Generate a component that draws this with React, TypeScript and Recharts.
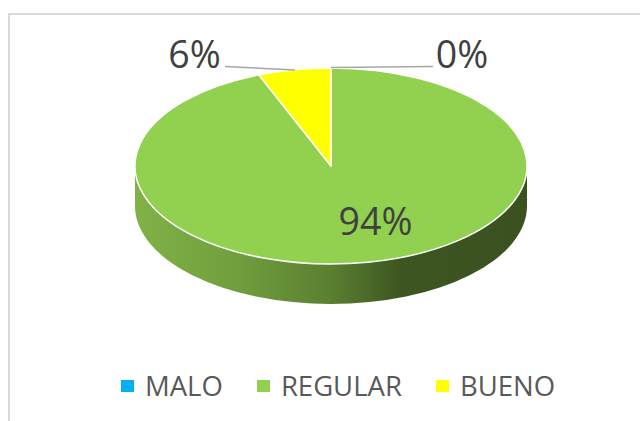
import React from "react";
import { PieChart, Pie, Legend } from "recharts";

const categories = ["MALO", "REGULAR", "BUENO"];
const shares = [0, 94, 6];
const fills = ["#00b0f0", "#92d050", "#ffff00"];

const tableData = categories.map((name, i) => ({ name, value: shares[i], fill: fills[i] }));

const CX = 331;
const CY = 166;
const RX = 196;
const SQUASH = 0.5;
const DEPTH = 40;
const FONT = '"Open Sans", "Noto Sans", sans-serif';

const pt = (a: number, rx: number, ry: number, cx: number, cy: number) => {
  const r = (a * Math.PI) / 180;
  return [cx + rx * Math.cos(r), cy - ry * Math.sin(r)];
};

function Sector3D(props: any) {
  const { cx, cy, outerRadius, startAngle, endAngle, fill } = props;
  const rx = outerRadius;
  const ry = outerRadius * SQUASH;
  const span = Math.abs(endAngle - startAngle);
  if (span <= 0) return <g />;
  const [sx, sy] = pt(startAngle, rx, ry, cx, cy);
  const [ex, ey] = pt(endAngle, rx, ry, cx, cy);
  const large = span > 180 ? 1 : 0;
  const top = `M${cx},${cy}L${sx},${sy}A${rx},${ry} 0 ${large} 1 ${ex},${ey}Z`;
  const a0 = Math.min(startAngle, 0);
  const a1 = Math.max(endAngle, -180);
  let wall = null;
  if (a0 > a1) {
    const [wx0, wy0] = pt(a0, rx, ry, cx, cy);
    const [wx1, wy1] = pt(a1, rx, ry, cx, cy);
    const d = `M${wx0},${wy0}L${wx0},${wy0 + DEPTH}A${rx},${ry} 0 0 1 ${wx1},${wy1 + DEPTH}L${wx1},${wy1}A${rx},${ry} 0 0 0 ${wx0},${wy0}Z`;
    wall = (
      <>
        <defs>
          <linearGradient id="wallShade" gradientUnits="userSpaceOnUse" x1={cx - rx} x2={cx + rx} y1="0" y2="0">
            <stop offset="0" stopColor="#80b247" />
            <stop offset="0.25" stopColor="#729f3e" />
            <stop offset="0.5" stopColor="#5a7f31" />
            <stop offset="0.68" stopColor="#3d5521" />
            <stop offset="1" stopColor="#3b5220" />
          </linearGradient>
        </defs>
        <path d={d} fill="url(#wallShade)" />
      </>
    );
  }
  return (
    <g>
      {wall}
      <path d={top} fill={fill} stroke="#ffffff" strokeWidth={1.5} strokeLinejoin="round" />
    </g>
  );
}

function SliceLabel(props: any) {
  const { index, cx, cy, value } = props;
  const name = categories[index];
  const common = { fontFamily: FONT, fontSize: 37.5, fill: "#404040", textAnchor: "middle" as const };
  if (name === "REGULAR") {
    return <text x={cx + 44.5} y={cy + 69} {...common}>{`${value}%`}</text>;
  }
  if (name === "BUENO") {
    return (
      <g>
        <polyline points={`${cx - 106},${cy - 99.5} ${cx - 36},${cy - 96}`} fill="none" stroke="#a6a6a6" strokeWidth={1.5} />
        <text x={cx - 136.5} y={cy - 98} {...common}>{`${value}%`}</text>
      </g>
    );
  }
  return (
    <g>
      <polyline points={`${cx + 102},${cy - 99.5} ${cx},${cy - 98.5}`} fill="none" stroke="#a6a6a6" strokeWidth={1.5} />
      <text x={cx + 131} y={cy - 98} {...common}>{`${value}%`}</text>
    </g>
  );
}

function LegendRow({ payload }: any) {
  return (
    <div style={{ display: "flex", alignItems: "center", justifyContent: "flex-start", paddingLeft: 121, height: 38, fontFamily: FONT, fontSize: 27.5, color: "#595959" }}>
      {(payload || []).map((p: any) => (
        <div key={p.value} style={{ display: "flex", alignItems: "center", marginRight: 34 }}>
          <span style={{ display: "inline-block", width: 13, height: 12, background: p.color, marginRight: 11 }} />
          <span style={{ lineHeight: "38px" }}>{p.value}</span>
        </div>
      ))}
    </div>
  );
}

export default function App() {
  return (
    <div style={{ position: "absolute", left: 0, top: 0, width: 640, height: 421, background: "#ffffff", overflow: "hidden" }}>
      <div style={{ position: "absolute", left: 8, top: 13, width: 632, height: 408, borderLeft: "2px solid #d9d9d9", borderTop: "2px solid #d9d9d9", boxSizing: "border-box" }} />
      <PieChart width={640} height={421} margin={{ top: 0, right: 0, bottom: 0, left: 0 }} style={{ position: "absolute", left: 0, top: 0 }}>
        <Pie
          data={tableData}
          dataKey="value"
          nameKey="name"
          cx={CX}
          cy={CY}
          outerRadius={RX}
          innerRadius={0}
          startAngle={90}
          endAngle={-270}
          stroke="#ffffff"
          shape={Sector3D}
          label={SliceLabel}
          labelLine={false}
          isAnimationActive={false}
        />
        <Legend itemSorter={null} content={LegendRow as any} wrapperStyle={{ left: 0, top: 367, width: 640, bottom: "auto" }} />
      </PieChart>
    </div>
  );
}
